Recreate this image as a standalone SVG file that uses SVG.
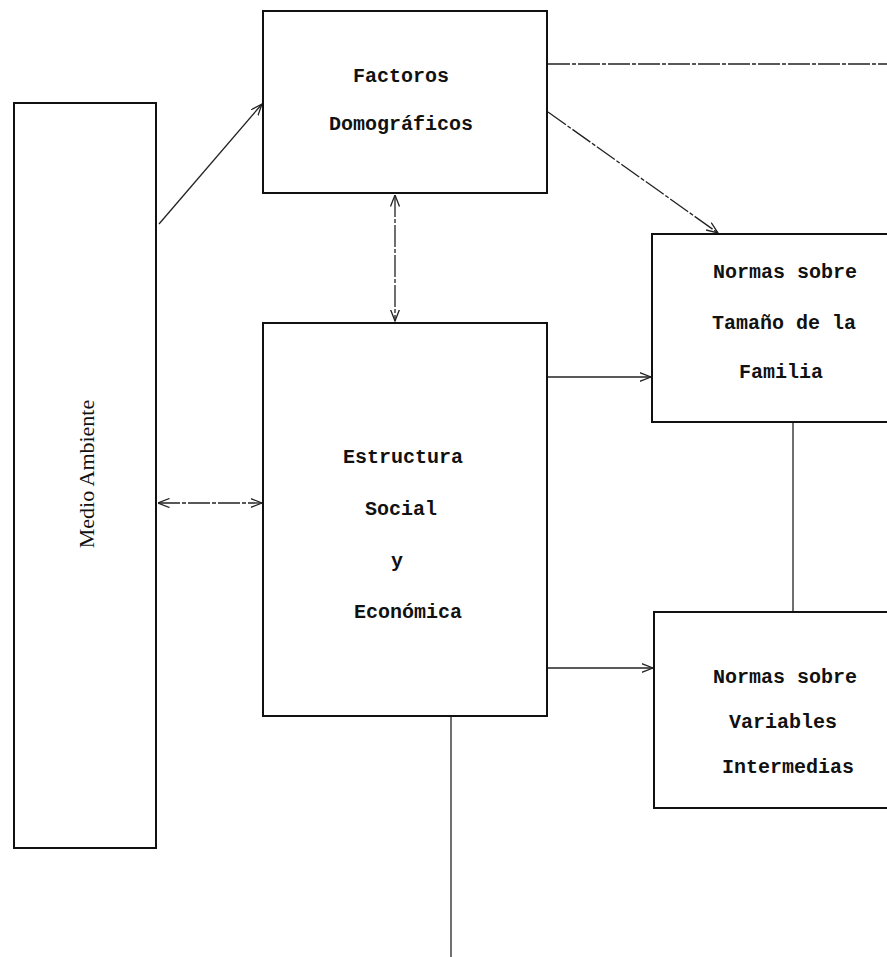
<svg xmlns="http://www.w3.org/2000/svg" width="887" height="957" viewBox="0 0 887 957">
<style>
.box{fill:none;stroke:#111;stroke-width:2}
.c{fill:none;stroke:#222;stroke-width:1.3}
.d{stroke-dasharray:22 2 4 2}
.t{font-family:"Liberation Mono","DejaVu Sans Mono",monospace;font-size:20px;font-weight:bold;fill:#111;text-anchor:middle}
.s{font-family:"Liberation Serif","DejaVu Serif",serif;font-size:22px;fill:#111;text-anchor:middle}
</style>
<defs>
<marker id="a" viewBox="0 0 12 10" refX="11.5" refY="5" markerWidth="12" markerHeight="10" markerUnits="userSpaceOnUse" orient="auto-start-reverse">
<path d="M0,0.5 L11.5,5 L0,9.5" fill="none" stroke="#222" stroke-width="1.3"/>
</marker>
</defs>
<rect width="887" height="957" fill="#fff"/>
<g id="connectors">
<line class="c" x1="159" y1="224" x2="262" y2="104" marker-end="url(#a)" stroke-width="1.8"/>
<line class="c d" x1="395" y1="195" x2="395" y2="321" marker-start="url(#a)" marker-end="url(#a)"/>
<line class="c d" x1="158" y1="503" x2="262" y2="503" marker-start="url(#a)" marker-end="url(#a)"/>
<line class="c d" x1="548" y1="112" x2="718" y2="233" marker-end="url(#a)"/>
<line class="c d" x1="548" y1="64" x2="887" y2="64"/>
<line class="c" x1="548" y1="377" x2="651" y2="377" marker-end="url(#a)"/>
<line class="c" x1="548" y1="668" x2="653" y2="668" marker-end="url(#a)"/>
<line class="c" x1="793" y1="423" x2="793" y2="611"/>
<line class="c" x1="451" y1="717" x2="451" y2="957"/>
</g>
<g id="medio">
<rect class="box" x="14" y="103" width="142" height="745"/>
<text class="s" transform="translate(94,474) rotate(-90)">Medio Ambiente</text>
</g>
<g id="factores">
<rect class="box" x="263" y="11" width="284" height="182"/>
<text class="t" x="401" y="82">Factoros</text>
<text class="t" x="401" y="130">Domográficos</text>
</g>
<g id="estructura">
<rect class="box" x="263" y="323" width="284" height="393"/>
<text class="t" x="403" y="463">Estructura</text>
<text class="t" x="401" y="515">Social</text>
<text class="t" x="397" y="567">y</text>
<text class="t" x="408" y="618">Económica</text>
</g>
<g id="normas-tamano">
<rect class="box" x="652" y="234" width="260" height="188"/>
<text class="t" x="785" y="278">Normas sobre</text>
<text class="t" x="784" y="329">Tamaño de la</text>
<text class="t" x="781" y="378">Familia</text>
</g>
<g id="normas-variables">
<rect class="box" x="654" y="612" width="260" height="196"/>
<text class="t" x="785" y="683">Normas sobre</text>
<text class="t" x="783" y="728">Variables</text>
<text class="t" x="788" y="773">Intermedias</text>
</g>
</svg>
